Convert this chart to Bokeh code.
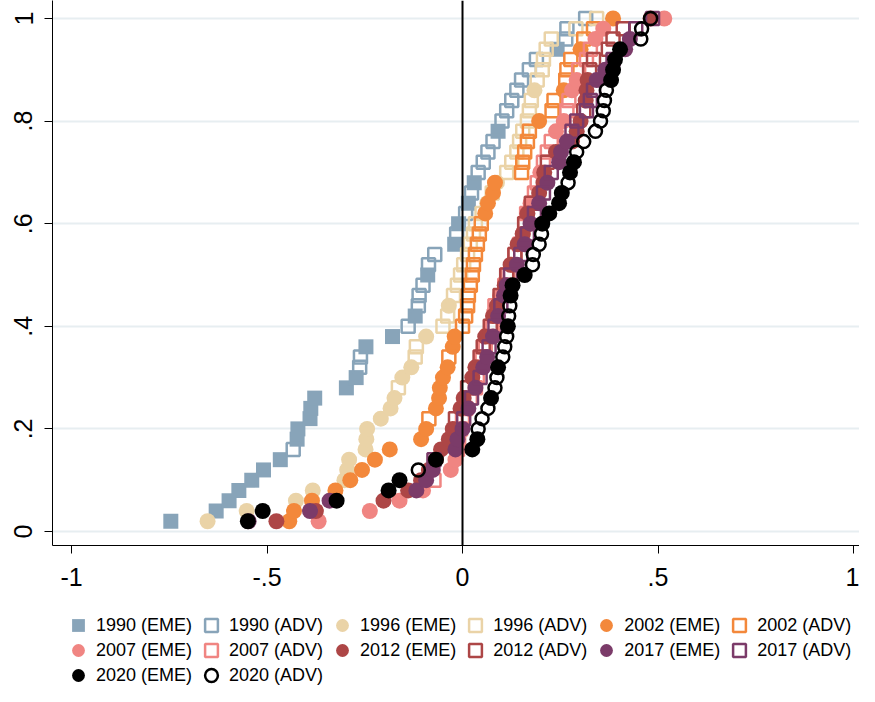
import numpy as np
from bokeh.plotting import figure
from bokeh.layouts import column
from bokeh.models import Span, Legend, LegendItem, FixedTicker, Range1d
from bokeh.embed import file_html
from bokeh.resources import INLINE

# ---- data: x values per year, split by country group (EME / ADV) ----
years = ["1990", "1996", "2002", "2007", "2012", "2017", "2020"]

eme_1990 = [-0.746, -0.630, -0.597, -0.572, -0.539, -0.509, -0.466, -0.423, -0.421, -0.390,
            -0.388, -0.378, -0.297, -0.272, -0.247, -0.179, -0.121, -0.089, -0.020, -0.010,
            0.015, 0.030, 0.091, 0.242]
adv_1990 = [-0.433, -0.263, -0.261, -0.139, -0.113, -0.111, -0.101, -0.087, -0.071, -0.015,
            0.008, 0.023, 0.040, 0.053, 0.065, 0.078, 0.101, 0.113, 0.126, 0.139,
            0.151, 0.171, 0.189, 0.264, 0.267, 0.315]

eme_1996 = [-0.652, -0.552, -0.426, -0.383, -0.302, -0.295, -0.290, -0.248, -0.246, -0.244,
            -0.209, -0.184, -0.174, -0.154, -0.131, -0.093, -0.035, 0.063, 0.088, 0.184]
adv_1996 = [-0.164, -0.121, -0.118, -0.050, -0.038, -0.023, -0.013, -0.005, 0.003, 0.013,
            0.020, 0.028, 0.033, 0.050, 0.076, 0.113, 0.126, 0.139, 0.146, 0.154,
            0.166, 0.171, 0.176, 0.191, 0.204, 0.207, 0.214, 0.227, 0.290, 0.343]

eme_2002 = [-0.443, -0.431, -0.385, -0.325, -0.287, -0.257, -0.224, -0.186, -0.106, -0.093,
            -0.068, -0.060, -0.058, -0.050, -0.038, -0.025, -0.020, 0.058, 0.065, 0.078,
            0.083, 0.196, 0.259, 0.302, 0.385]
adv_2002 = [-0.086, -0.035, 0.000, 0.008, 0.013, 0.015, 0.020, 0.025, 0.028, 0.033,
            0.038, 0.043, 0.048, 0.151, 0.154, 0.159, 0.166, 0.171, 0.229, 0.234,
            0.264, 0.267, 0.277, 0.310, 0.335]

eme_2007 = [-0.368, -0.237, -0.161, -0.101, -0.030, -0.018, 0.040, 0.096, 0.126, 0.154,
            0.174, 0.199, 0.239, 0.259, 0.280, 0.292, 0.340, 0.360, 0.516]
adv_2007 = [-0.073, -0.013, -0.010, -0.005, 0.000, 0.008, 0.020, 0.033, 0.038, 0.050,
            0.058, 0.065, 0.076, 0.081, 0.083, 0.108, 0.116, 0.134, 0.146, 0.159,
            0.164, 0.184, 0.191, 0.207, 0.217, 0.227, 0.267, 0.272, 0.297, 0.317, 0.327]

eme_2012 = [-0.476, -0.375, -0.202, -0.139, -0.106, -0.086, -0.068, -0.055, -0.035, -0.025,
            -0.005, 0.003, 0.025, 0.033, 0.058, 0.078, 0.088, 0.108, 0.123, 0.141,
            0.154, 0.166, 0.196, 0.207, 0.209, 0.239, 0.280, 0.292, 0.302, 0.315,
            0.317, 0.320, 0.481]
adv_2012 = [-0.018, 0.013, 0.045, 0.053, 0.071, 0.096, 0.113, 0.134, 0.159, 0.176,
            0.217, 0.310, 0.325, 0.335, 0.373, 0.385, 0.411]

eme_2017 = [-0.547, -0.390, -0.340, -0.118, -0.093, -0.076, -0.018, -0.013, 0.000, 0.015,
            0.033, 0.053, 0.063, 0.078, 0.091, 0.106, 0.113, 0.139, 0.159, 0.174,
            0.196, 0.217, 0.247, 0.252, 0.267, 0.343, 0.365, 0.416, 0.428]
adv_2017 = [-0.073, 0.003, 0.023, 0.045, 0.068, 0.083, 0.098, 0.123, 0.149, 0.166,
            0.184, 0.207, 0.227, 0.280, 0.292, 0.317, 0.327, 0.335, 0.385, 0.443, 0.486]

eme_2020 = [-0.549, -0.511, -0.322, -0.189, -0.161, -0.068, 0.025, 0.038, 0.073, 0.091,
            0.116, 0.123, 0.128, 0.159, 0.204, 0.222, 0.247, 0.254, 0.275, 0.285,
            0.380, 0.385, 0.390, 0.403]
adv_2020 = [-0.113, 0.040, 0.050, 0.065, 0.083, 0.088, 0.103, 0.108, 0.113, 0.118,
            0.121, 0.179, 0.181, 0.196, 0.202, 0.270, 0.292, 0.310, 0.340, 0.353,
            0.360, 0.363, 0.368, 0.456, 0.458, 0.481]

data = {
    "1990": (eme_1990, adv_1990), "1996": (eme_1996, adv_1996), "2002": (eme_2002, adv_2002),
    "2007": (eme_2007, adv_2007), "2012": (eme_2012, adv_2012), "2017": (eme_2017, adv_2017),
    "2020": (eme_2020, adv_2020),
}

x_ticks = [-1, -0.5, 0, 0.5, 1]
x_labels = ["-1", "-.5", "0", ".5", "1"]
y_ticks = [0, 0.2, 0.4, 0.6, 0.8, 1]
y_labels = ["0", ".2", ".4", ".6", ".8", "1"]

colors = {"1990": "#88a4b9", "1996": "#ead3a7", "2002": "#f3883b", "2007": "#f08582",
          "2012": "#ad4646", "2017": "#7b3b69", "2020": "#000000"}

FONT = "Liberation Sans"

# ---------------- main plot ----------------
p = figure(width=859, height=600, output_backend="svg", toolbar_location=None,
           x_range=Range1d(-1.0486, 1.0153), y_range=Range1d(-0.0273, 1.0351),
           min_border_left=52, min_border_right=0, min_border_top=0, min_border_bottom=55)
p.outline_line_color = None
p.background_fill_color = "white"
p.border_fill_color = "white"

for ax in (p.xaxis, p.yaxis):
    ax.axis_line_color = "black"
    ax.axis_line_width = 1
    ax.major_tick_line_color = "black"
    ax.major_tick_line_width = 1
    ax.major_tick_out = 8
    ax.major_tick_in = 0
    ax.minor_tick_line_color = None
    ax.major_label_text_font = FONT
    ax.major_label_text_color = "black"
    ax.major_label_text_font_size = "25px"

p.xaxis.ticker = FixedTicker(ticks=x_ticks)
p.xaxis.major_label_overrides = dict(zip(x_ticks, x_labels))
p.xaxis.major_label_standoff = 14
p.yaxis.ticker = FixedTicker(ticks=y_ticks)
p.yaxis.major_label_overrides = dict(zip(y_ticks, y_labels))
p.yaxis.major_label_orientation = "vertical"
p.yaxis.major_label_standoff = 12

p.xgrid.visible = False
p.ygrid.grid_line_color = "#e7eef1"
p.ygrid.grid_line_width = 2

p.add_layout(Span(location=0, dimension="height", line_color="black", line_width=2))

# ---------------- legend strip (its view shows no data; only the legend) ----------------
lp = figure(width=859, height=86, output_backend="svg", toolbar_location=None,
            x_axis_type=None, y_axis_type=None, x_range=Range1d(-1.0486, 1.0153),
            y_range=Range1d(10, 11),
            min_border_left=0, min_border_right=0, min_border_top=0, min_border_bottom=0)
lp.outline_line_color = None
lp.grid.visible = False
lp.background_fill_color = "white"
lp.border_fill_color = "white"

def styles(yr):
    c = colors[yr]
    if yr == "1990":
        e = dict(marker="square", size=15, fill_color=c, line_color=c, line_width=0)
    else:
        e = dict(marker="circle", size=16, fill_color=c, line_color=c, line_width=0)
    if yr == "2020":
        a = dict(marker="circle", size=13, fill_color=None, line_color=c, line_width=2.5)
    else:
        a = dict(marker="square", size=13, fill_color=None, line_color=c, line_width=2.5)
    return e, a

items = []
for yr in years:
    eme, adv = data[yr]
    allx = np.array(eme + adv)
    grp = np.array(["EME"] * len(eme) + ["ADV"] * len(adv))
    order = np.argsort(allx, kind="stable")
    xs = allx[order]
    gs = grp[order]
    share = np.arange(1, len(xs) + 1) / len(xs)   # empirical cumulative share
    me = gs == "EME"
    ma = gs == "ADV"
    e_style, a_style = styles(yr)
    p.scatter(xs[me], share[me], **e_style)
    p.scatter(xs[ma], share[ma], **a_style)
    # same series in the legend strip (outside its visible y range) to drive the legend
    le = lp.scatter(xs[me], share[me], **e_style)
    la = lp.scatter(xs[ma], share[ma], **a_style)
    items.append(LegendItem(label=f"{yr} (EME)", renderers=[le]))
    items.append(LegendItem(label=f"{yr} (ADV)", renderers=[la]))

rows = [items[0:6], items[6:12], items[12:14]]
row_bottoms = [44, 19, -6]
for its, vy in zip(rows, row_bottoms):
    lg = Legend(items=its, orientation="horizontal", location=(10, vy),
                margin=0, padding=0, spacing=3, label_standoff=2,
                glyph_width=32, glyph_height=34, label_height=20,
                label_text_font=FONT, label_text_font_size="18px", label_text_color="black",
                border_line_color=None, background_fill_alpha=0)
    lp.add_layout(lg, "center")

layout = column(p, lp, spacing=0)
open("out.html", "w").write(file_html(layout, INLINE))
